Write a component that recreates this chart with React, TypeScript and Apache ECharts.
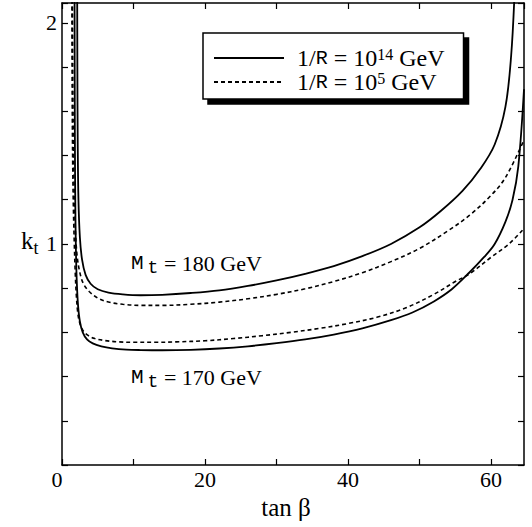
import React, { useEffect, useRef } from "react";
import * as echarts from "echarts";

// Tick labels
const xTickLabels = [0, 20, 40, 60];
const yTickLabels = [1, 2];

// Series names (legend)
const nameHigh = "1/R = 10^14 GeV";
const nameLow = "1/R = 10^5 GeV";

// M_t = 180 GeV, 1/R = 10^14 GeV (solid)
const tanBetaS180 = [2.12, 2.15, 2.2, 2.3, 2.5, 2.8, 3.3, 4, 5, 6.5, 8.5, 11, 14, 18, 22, 26, 30, 34, 38, 42, 46, 50, 53, 56, 58.5, 60.5, 62, 62.8, 63.3];
const kS180 = [2.2, 1.8, 1.45, 1.2, 1.03, 0.93, 0.86, 0.82, 0.795, 0.78, 0.772, 0.768, 0.77, 0.778, 0.79, 0.81, 0.835, 0.865, 0.9, 0.945, 1.0, 1.075, 1.15, 1.24, 1.34, 1.45, 1.62, 1.85, 2.15];

// M_t = 180 GeV, 1/R = 10^5 GeV (dashed)
const tanBetaD180 = [1.45, 1.5, 1.58, 1.7, 1.85, 2.1, 2.5, 3, 3.8, 5, 6.5, 8.5, 11, 14, 18, 22, 26, 30, 34, 38, 42, 46, 50, 54, 57, 60, 62, 64.6];
const kD180 = [2.2, 1.8, 1.5, 1.25, 1.08, 0.95, 0.87, 0.82, 0.785, 0.755, 0.737, 0.727, 0.722, 0.722, 0.727, 0.737, 0.752, 0.772, 0.797, 0.83, 0.87, 0.92, 0.98, 1.06, 1.13, 1.22, 1.3, 1.47];

// M_t = 170 GeV, 1/R = 10^5 GeV (dashed)
const tanBetaD170 = [1.38, 1.42, 1.5, 1.6, 1.72, 1.85, 2.0, 2.2, 2.5, 3, 3.7, 4.6, 6, 8, 10, 13, 16, 20, 24, 28, 32, 36, 40, 44, 48, 52, 55, 57, 60, 62.5, 64.6];
const kD170 = [2.2, 1.7, 1.35, 1.15, 1.0, 0.87, 0.77, 0.69, 0.64, 0.605, 0.585, 0.572, 0.563, 0.557, 0.555, 0.555, 0.557, 0.562, 0.572, 0.585, 0.6, 0.618, 0.64, 0.668, 0.71, 0.772, 0.83, 0.865, 0.94, 1.0, 1.07];

// M_t = 170 GeV, 1/R = 10^14 GeV (solid)
const tanBetaS170 = [1.75, 1.78, 1.82, 1.88, 1.96, 2.08, 2.25, 2.5, 2.9, 3.5, 4.3, 5.5, 7, 9, 11, 14, 18, 22, 26, 30, 34, 38, 42, 46, 49, 52, 54.5, 57, 59, 60.5, 62, 63, 63.8, 64.6];
const kS170 = [2.2, 1.7, 1.35, 1.12, 0.95, 0.82, 0.72, 0.65, 0.6, 0.568, 0.55, 0.537, 0.528, 0.522, 0.52, 0.519, 0.521, 0.527, 0.537, 0.551, 0.568, 0.59, 0.618, 0.655, 0.69, 0.74, 0.795, 0.872, 0.94, 1.0, 1.1, 1.2, 1.35, 1.7];

const zip = (xs: number[], ys: number[]) => xs.map((x, i) => [x, ys[i]]);

export default function App() {
  const ref = useRef<HTMLDivElement>(null);
  useEffect(() => {
    const chart = echarts.init(ref.current!, null, { renderer: "svg" });
    const serif = "'Liberation Serif', 'Times New Roman', serif";
    const mono = "'Liberation Mono', 'Courier New', monospace";
    const axisCommon = {
      type: "value" as const,
      axisLine: { show: true, onZero: false, lineStyle: { color: "#000", width: 1.5 } },
      axisTick: { show: true, inside: true, length: 6, lineStyle: { color: "#000", width: 1.2 } },
      splitLine: { show: false },
    };
    const solidStyle = { color: "#000", width: 1.8, type: "solid" as const };
    const dashStyle = { color: "#000", width: 1.6, type: [4, 3] as any };
    const mkSeries = (name: string, data: number[][], ls: any) => ({
      type: "line",
      name,
      data,
      symbol: "none",
      smooth: 0.35,
      clip: true,
      lineStyle: ls,
      itemStyle: { color: "#000" },
      xAxisIndex: 0,
      yAxisIndex: 0,
    });
    const legendRich = {
      a: { fontFamily: serif, fontSize: 24, color: "#000", lineHeight: 24 },
      r: { fontFamily: mono, fontSize: 20, color: "#000", lineHeight: 24 },
      s: { fontFamily: serif, fontSize: 16, color: "#000", lineHeight: 12, verticalAlign: "top" },
    };
    const mtRich = {
      m: { fontFamily: mono, fontSize: 21, color: "#000", lineHeight: 28 },
      t: { fontFamily: mono, fontSize: 18, color: "#000", lineHeight: 18, verticalAlign: "bottom", padding: [0, 0, 0, 4] },
      n: { fontFamily: serif, fontSize: 22, color: "#000", lineHeight: 28 },
    };
    chart.setOption({
      animation: false,
      backgroundColor: "#fff",
      grid: { left: 62, right: 8, top: 3, bottom: 62, containLabel: false },
      xAxis: [
        {
          ...axisCommon,
          position: "bottom",
          min: 0,
          max: 64.6,
          interval: 10,
          axisLabel: {
            show: true,
            margin: 3,
            color: "#000",
            fontFamily: serif,
            fontSize: 22,
            showMaxLabel: false,
            rich: { z: { fontFamily: serif, fontSize: 22, color: "#000", padding: [0, 10, 0, 0] } },
            formatter: (v: number) => {
              const r = Math.round(v);
              if (Math.abs(v - r) > 1e-6 || !xTickLabels.includes(r)) return "";
              return r === 0 ? "{z|0}" : String(r);
            },
          },
          name: "tan β",
          nameLocation: "middle",
          nameGap: 30,
          nameTextStyle: { color: "#000", fontFamily: serif, fontSize: 25, padding: [0, 14, 0, 0] },
        },
        {
          ...axisCommon,
          position: "top",
          min: 0,
          max: 64.6,
          interval: 10,
          axisLabel: { show: false },
        },
      ],
      yAxis: [
        {
          ...axisCommon,
          position: "left",
          min: 0,
          max: 2.09,
          interval: 0.2,
          axisLabel: {
            show: true,
            margin: 5,
            color: "#000",
            fontFamily: serif,
            fontSize: 22,
            formatter: (v: number) => {
              const m = yTickLabels.find((t) => Math.abs(v - t) < 1e-6);
              return m !== undefined ? String(m) : "";
            },
          },
        },
        {
          ...axisCommon,
          position: "right",
          min: 0,
          max: 2.09,
          interval: 0.2,
          axisLabel: { show: false },
        },
      ],
      legend: {
        show: true,
        orient: "vertical",
        left: 203,
        top: 33,
        padding: [13, 19, 5, 10],
        itemGap: 0,
        itemWidth: 70,
        itemHeight: 14,
        backgroundColor: "#fff",
        borderColor: "#000",
        borderWidth: 1.5,
        borderRadius: 0,
        shadowColor: "#000",
        shadowBlur: 0,
        shadowOffsetX: 5,
        shadowOffsetY: 5,
        itemStyle: { color: "rgba(0,0,0,0)", borderColor: "rgba(0,0,0,0)", borderWidth: 0, opacity: 0 },
        data: [{ name: nameHigh }, { name: nameLow }],
        textStyle: { fontFamily: serif, fontSize: 24, color: "#000", rich: legendRich, padding: [0, 0, 0, 8] },
        formatter: (name: string) =>
          name === nameHigh ? "{a|1/}{r|R}{a| = 10}{s|14}{a| GeV}" : "{a|1/}{r|R}{a| = 10}{s|5}{a| GeV}",
      },
      graphic: [
        {
          type: "text",
          left: 21,
          top: 228,
          style: {
            text: "{k|k}{t|t}",
            rich: {
              k: { fontFamily: serif, fontSize: 25, color: "#000", lineHeight: 32 },
              t: { fontFamily: serif, fontSize: 18, color: "#000", lineHeight: 18, verticalAlign: "bottom" },
            },
          },
        },
        {
          type: "text",
          left: 131,
          top: 252,
          style: { text: "{m|M}{t|t}{n| = 180 GeV}", rich: mtRich },
        },
        {
          type: "text",
          left: 131,
          top: 366,
          style: { text: "{m|M}{t|t}{n| = 170 GeV}", rich: mtRich },
        },
      ],
      series: [
        mkSeries(nameHigh, zip(tanBetaS180, kS180), solidStyle),
        mkSeries(nameLow, zip(tanBetaD180, kD180), dashStyle),
        mkSeries(nameLow, zip(tanBetaD170, kD170), dashStyle),
        mkSeries(nameHigh, zip(tanBetaS170, kS170), solidStyle),
      ],
    });
    return () => chart.dispose();
  }, []);
  return <div ref={ref} style={{ position: "fixed", left: 0, top: 0, width: 532, height: 527 }} />;
}
